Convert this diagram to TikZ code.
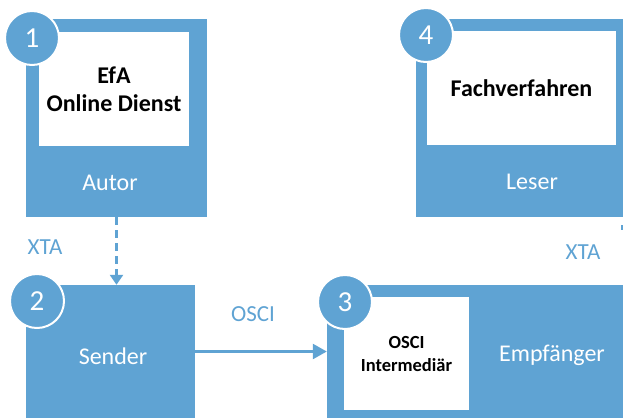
\documentclass[tikz,border=0pt]{standalone}
\usepackage{fontspec}
\setmainfont{Carlito}
\usetikzlibrary{arrows.meta}
\definecolor{bl}{HTML}{5FA3D3}
\tikzset{
  bluebox/.style={fill=bl, draw=none, inner sep=0pt, anchor=center},
  whitebox/.style={fill=white, draw=none, inner sep=0pt, align=center, font=\fontsize{24}{28}\selectfont\bfseries},
  smallwhite/.style={fill=white, draw=none, inner sep=0pt, align=center, font=\fontsize{18.5}{23}\selectfont\bfseries},
  role/.style={text=white, font=\fontsize{24}{28}\selectfont, inner sep=0pt},
  lbl/.style={text=bl, font=\fontsize{23}{26}\selectfont, inner sep=0pt},
  numc/.style={circle, fill=bl, draw=white, line width=2pt, minimum size=54pt, inner sep=0pt, text=white, font=\fontsize{29}{30}\selectfont},
  conn/.style={draw=bl, line width=2.5pt},
}
\begin{document}
\begin{tikzpicture}[x=1pt,y=-1pt]
\useasboundingbox (0,0) rectangle (623,418);
\clip (0,0) rectangle (623,418);
% boxes
\node[bluebox, minimum width=181pt, minimum height=198pt] (b1) at (116.5,118) {};
\node[whitebox, minimum width=150pt, minimum height=114pt] (w1) at (114,89) {EfA\\Online Dienst};
\node[role] (autor) at (110,183) {Autor};

\node[bluebox, minimum width=207pt, minimum height=198pt] (b4) at (519.5,118) {};
\node[whitebox, minimum width=189pt, minimum height=114pt] (w4) at (521.5,88) {Fachverfahren};
\node[role] (leser) at (532,182) {Leser};

\node[bluebox, minimum width=169pt, minimum height=133pt] (b2) at (110.5,351.5) {};
\node[role] (sender) at (113,356) {Sender};

\node[bluebox, minimum width=296pt, minimum height=133pt] (b3) at (475,351.5) {};
\node[smallwhite, minimum width=125pt, minimum height=113pt] (w3) at (406.5,353.5) {OSCI\\Intermediär};
\node[role] (empf) at (552,355) {Empfänger};

% circles
\node[numc] (c1) at (32,38) {1};
\node[numc] (c4) at (426,35) {4};
\node[numc] (c2) at (37,301) {2};
\node[numc] (c3) at (345,302) {3};

% labels
\node[lbl] (xta1) at (45,247) {XTA};
\node[lbl] (xta2) at (583,252) {XTA};
\node[lbl] (osci) at (253,314) {OSCI};

% connectors
\draw[conn, dash pattern=on 8pt off 5pt, -{Triangle[width=13pt,length=10pt]}] (b1.south) -- (b1.south |- b2.north);
\draw[conn, -{Triangle[width=15pt,length=14pt]}] (b2.east) -- (b3.west);
\coordinate (d1) at (622,225);
\coordinate (d2) at (622,230);
\draw[conn] (d1) -- (d2);
\end{tikzpicture}
\end{document}
